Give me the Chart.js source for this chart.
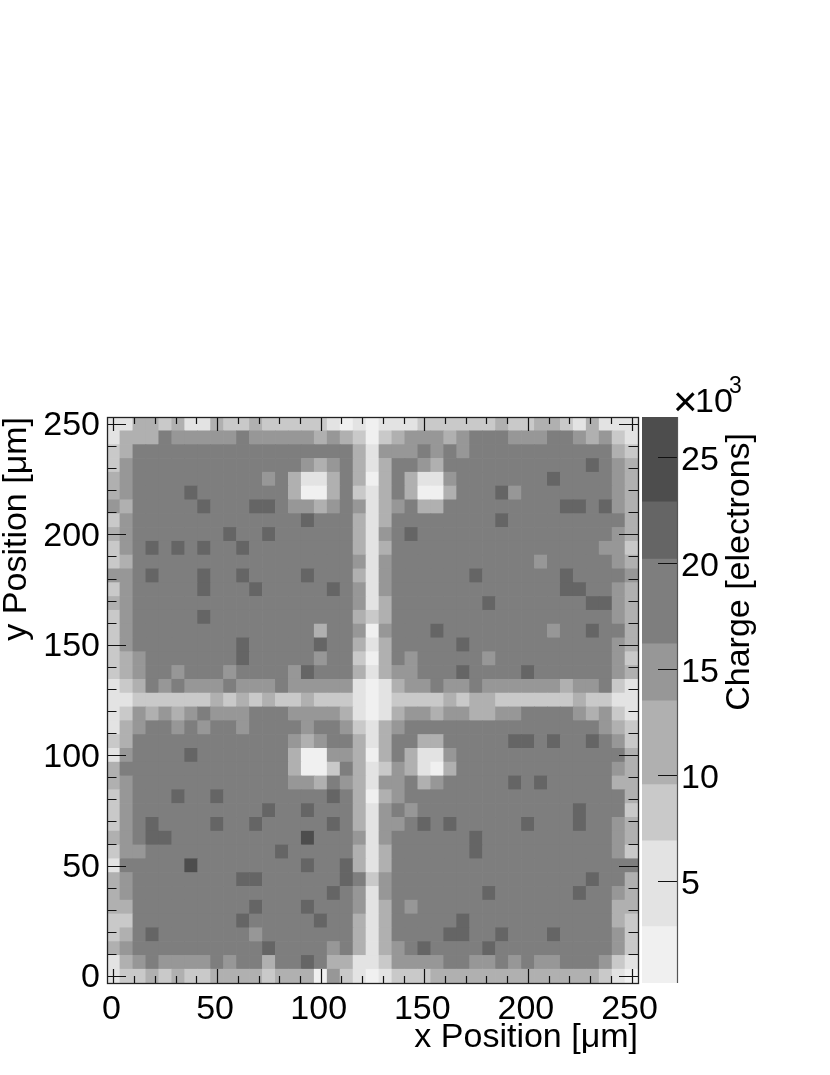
<!DOCTYPE html>
<html>
<head>
<meta charset="utf-8">
<style>
html,body{margin:0;padding:0;background:#fff}
#wrap{position:relative;width:830px;height:1075px}
canvas{position:absolute;left:0;top:0}
</style>
<script src="https://cdn.jsdelivr.net/npm/chart.js@4/dist/chart.umd.min.js"></script>
</head>
<body>
<div id="wrap"><canvas id="map" width="830" height="1075"></canvas><canvas id="bar" width="830" height="1075"></canvas></div>
<script>
// charge per pixel, in thousands of electrons; first row is the top row (y = 250)
const chargeRows = [
[5,5,11,11,8,11,5,5,11,8,8,11,8,8,8,8,8,5,2,5,2,5,5,5,8,8,8,8,8,8,11,8,8,11,11,8,5,11,5,5,5],
[5,11,11,11,18,15,15,15,15,15,18,15,15,15,15,15,11,15,11,8,2,8,11,15,15,15,11,15,18,18,18,15,15,15,18,18,15,11,15,8,5],
[8,11,18,18,18,18,18,18,18,18,18,18,18,18,18,18,18,18,18,11,5,15,15,15,18,15,18,15,18,18,18,18,18,18,18,18,18,18,18,11,8],
[8,15,18,18,18,18,18,18,18,18,18,18,18,18,18,15,11,15,18,11,5,11,18,18,15,11,18,18,18,18,18,18,18,18,18,18,18,21,18,15,11],
[11,15,18,18,18,18,18,18,18,18,18,18,15,18,11,5,5,11,18,11,2,11,18,11,5,5,15,18,18,18,18,18,18,18,21,18,18,18,18,15,11],
[11,15,18,18,18,18,21,18,18,18,18,18,18,18,11,2,2,11,18,8,5,11,18,11,2,2,11,18,18,18,21,15,18,18,18,18,18,18,18,15,11],
[15,11,18,18,18,18,18,21,18,18,18,21,21,18,15,15,11,15,18,15,5,11,15,18,11,11,18,18,18,18,18,18,18,18,18,21,21,18,21,15,11],
[8,15,18,18,18,18,18,18,18,18,18,18,18,18,18,21,18,18,18,11,5,11,18,18,18,18,18,18,18,18,21,18,18,18,18,18,18,18,18,18,11],
[11,15,18,18,18,18,18,18,18,21,18,18,21,18,18,18,18,18,18,11,5,15,18,21,18,18,18,18,18,18,18,18,18,18,18,18,18,18,18,15,11],
[8,15,18,21,18,21,18,21,18,18,21,18,18,18,18,18,18,18,18,11,5,11,18,18,18,18,18,18,18,18,18,18,18,18,18,18,18,18,15,15,8],
[8,11,18,18,18,18,18,18,18,18,18,18,18,18,18,18,18,18,18,15,5,15,18,18,18,18,18,18,18,18,18,18,18,15,18,18,18,18,18,15,11],
[15,15,18,21,18,18,18,21,18,18,21,18,18,18,18,21,18,18,18,11,5,15,18,18,18,18,18,18,21,18,18,18,18,18,18,21,18,18,18,18,15],
[8,15,18,18,18,18,18,21,18,18,18,21,18,18,18,18,18,21,18,15,5,15,18,18,18,18,18,18,18,18,18,18,18,18,18,21,21,18,18,15,11],
[11,15,18,18,18,18,18,18,18,18,18,18,18,18,18,18,18,18,18,15,5,11,18,18,18,18,18,18,18,21,18,18,18,18,18,18,18,21,21,15,11],
[8,15,18,18,18,18,18,21,18,18,18,18,18,18,18,18,18,18,18,11,8,11,18,18,18,18,18,18,18,18,18,18,18,18,18,18,18,18,18,15,11],
[8,15,18,18,18,18,18,18,18,18,18,18,18,18,18,18,11,18,18,15,2,15,18,18,18,21,18,18,18,18,18,18,18,18,15,18,18,21,18,18,11],
[8,15,18,18,18,18,18,18,18,18,21,18,18,18,18,18,21,18,18,11,5,11,18,18,18,18,18,21,18,18,18,18,18,18,18,18,18,18,18,15,11],
[8,11,15,18,18,18,18,18,18,18,21,18,18,18,18,18,15,18,18,8,2,11,18,15,18,18,18,18,18,15,18,18,18,18,18,18,18,18,18,15,8],
[8,11,15,18,18,15,18,18,18,15,18,18,18,18,15,21,18,18,18,11,5,11,15,15,18,18,18,21,18,18,18,18,21,18,18,18,18,18,18,15,11],
[5,8,11,18,15,18,15,15,15,18,15,15,15,18,15,15,15,15,15,5,2,5,11,15,15,18,15,15,18,15,15,15,15,15,15,11,15,15,18,8,5],
[5,5,8,8,8,8,8,8,11,8,11,8,11,8,8,11,8,8,8,5,2,5,8,8,8,8,11,8,11,11,8,8,8,8,8,8,11,8,8,5,5],
[5,8,15,11,15,11,15,18,15,15,15,18,18,18,15,15,15,15,11,5,2,5,11,15,15,11,15,15,11,11,15,15,18,18,18,18,15,11,15,8,5],
[5,11,15,18,18,15,18,15,18,18,15,18,18,18,18,15,18,18,15,8,5,11,15,18,18,18,18,18,18,18,18,18,18,18,18,18,18,18,15,11,8],
[8,11,18,18,18,18,18,18,18,18,18,18,18,18,15,11,15,18,18,11,5,11,18,18,11,11,18,18,18,18,18,21,21,18,21,18,18,21,18,15,8],
[5,15,18,18,18,18,21,18,18,18,18,18,18,18,11,2,2,15,15,11,2,11,18,11,5,5,15,18,18,18,18,18,18,18,18,18,18,18,18,18,11],
[11,18,18,18,18,18,18,18,18,18,18,18,18,18,11,2,2,8,18,11,5,8,15,11,5,2,11,18,18,18,18,18,18,18,18,18,18,18,18,15,11],
[11,15,18,18,18,18,18,18,18,18,18,18,18,18,15,15,11,18,15,11,5,15,15,18,11,15,18,18,18,18,18,21,18,21,18,18,18,18,18,11,11],
[8,15,18,18,18,21,18,18,21,18,18,18,18,18,18,18,18,21,18,11,2,11,15,18,18,18,18,18,18,18,18,18,18,18,18,18,18,18,18,18,11],
[8,15,18,18,18,18,18,18,18,18,18,18,21,18,18,21,18,18,18,11,5,15,18,15,18,18,18,18,18,18,18,18,18,18,18,18,21,18,18,18,8],
[8,15,18,21,18,18,18,18,21,18,18,21,18,18,18,18,18,21,18,11,5,15,15,18,21,18,21,18,18,18,18,18,21,18,18,18,21,18,18,15,11],
[11,15,18,21,21,18,18,18,18,18,18,18,18,18,18,25,18,18,18,15,5,15,18,18,18,18,18,18,21,18,18,18,18,18,18,18,18,18,18,15,11],
[8,15,15,18,18,18,18,18,18,18,18,18,18,21,18,18,18,18,18,11,5,11,18,18,18,18,18,18,21,18,18,18,18,18,18,18,18,18,18,15,8],
[5,18,18,18,18,18,25,18,18,18,18,18,18,18,18,21,18,18,21,11,5,11,18,18,18,18,18,18,18,18,18,18,18,18,18,18,18,18,18,18,18],
[11,15,18,18,18,18,18,18,18,18,21,21,18,18,18,18,18,18,21,18,8,15,18,18,18,18,18,18,18,18,18,18,18,18,18,18,18,21,18,18,11],
[11,15,18,18,18,18,18,18,18,18,18,18,18,18,18,18,18,21,18,15,5,15,18,18,18,18,18,18,18,21,18,18,18,18,18,18,21,18,18,15,11],
[11,11,18,18,18,18,18,18,18,18,18,21,18,18,18,21,18,18,18,15,5,11,18,15,18,18,18,18,18,18,18,18,18,18,18,18,18,18,18,11,11],
[8,8,18,18,18,18,18,18,18,18,21,18,18,18,18,18,21,18,18,11,5,11,18,18,18,18,18,21,18,18,18,18,18,18,18,18,18,18,18,11,8],
[8,11,18,21,18,18,18,18,18,18,18,15,18,18,18,18,18,18,18,11,5,11,18,18,18,18,21,21,18,18,21,18,18,18,21,18,18,18,18,15,8],
[11,15,18,18,18,18,18,18,18,18,18,18,21,18,18,18,18,15,18,11,5,11,15,18,21,18,18,18,18,21,18,18,18,18,18,18,18,18,18,15,8],
[5,11,15,18,15,15,15,15,18,15,18,18,11,18,18,21,18,11,11,5,5,8,15,15,15,15,18,18,15,15,18,15,18,15,15,18,18,18,15,8,5],
[5,8,8,11,8,11,8,8,11,11,11,11,8,11,11,11,2,15,8,5,2,5,8,8,8,11,11,11,11,11,11,11,11,11,11,11,11,11,8,5,2]
];
const binWidth = 6.25;
const xTickLabels = [0,50,100,150,200,250];
const yTickLabels = [0,50,100,150,200,250];
const minorTicks = [0,10,20,30,40,50,60,70,80,90,100,110,120,130,140,150,160,170,180,190,200,210,220,230,240,250];
const colorTickLabels = [5,10,15,20,25];
const bandEdges = [0.19,2.85,6.9,9.55,13.5,16.2,20.2,22.9,26.9];
const bandColors = ['#f0f0f0','#e3e3e3','#c9c9c9','#b0b0b0','#979797','#7e7e7e','#656565','#4d4d4d'];

const FONT = '"Liberation Sans", Arial, sans-serif';
const INK = '#000';
function colorOf(v){
  for(let i=0;i<bandColors.length;i++){ if(v<bandEdges[i+1]) return bandColors[i]; }
  return bandColors[bandColors.length-1];
}
const cells=[], cellColors=[];
chargeRows.forEach((row,r)=>{
  const yc=(chargeRows.length-1-r)*binWidth;
  row.forEach((v,c)=>{
    cells.push({x:c*binWidth,y:[yc-binWidth/2,yc+binWidth/2]});
    cellColors.push(colorOf(v));
  });
});

const frameTicks={
  id:'frameTicks',
  afterDatasetsDraw(chart){
    const {ctx,chartArea:a,scales:{x,y}}=chart;
    ctx.save();
    ctx.strokeStyle='#111';
    ctx.lineWidth=1.2;
    ctx.beginPath();
    minorTicks.forEach(v=>{
      const major=v%50===0;
      const px=Math.round(x.getPixelForValue(v))+.5, py=Math.round(y.getPixelForValue(v))+.5;
      const lx=major?14:7, ly=major?19:9.5;
      ctx.moveTo(px,a.top);ctx.lineTo(px,a.top+lx);
      ctx.moveTo(px,a.bottom);ctx.lineTo(px,a.bottom-lx);
      ctx.moveTo(a.left,py);ctx.lineTo(a.left+ly,py);
      ctx.moveTo(a.right,py);ctx.lineTo(a.right-ly,py);
    });
    ctx.stroke();
    ctx.strokeStyle='#222';
    ctx.lineWidth=1.3;
    ctx.strokeRect(Math.round(a.left)+.5,Math.round(a.top)+.5,Math.round(a.right-a.left),Math.round(a.bottom-a.top));
    ctx.restore();
  }
};

new Chart(document.getElementById('map'),{
  type:'bar',
  data:{datasets:[{data:cells,backgroundColor:cellColors,borderWidth:0,barPercentage:1,categoryPercentage:1}]},
  options:{
    responsive:false,animation:false,devicePixelRatio:1,
    layout:{padding:{top:417,right:192,left:0,bottom:0}},
    plugins:{legend:{display:false},tooltip:{enabled:false},title:{display:false}},
    scales:{
      x:{type:'linear',min:-3.125,max:253.125,offset:false,
        grid:{display:false,drawTicks:false},border:{display:false},
        afterBuildTicks(s){s.ticks=xTickLabels.map(v=>({value:v}));},
        afterFit(s){s.height=92;},
        ticks:{font:{family:FONT,size:34},color:INK,padding:6,maxRotation:0,autoSkip:false,labelOffset:-2},
        title:{display:true,text:'x Position [μm]',align:'end',color:INK,font:{family:FONT,size:34,lineHeight:1.2},padding:{top:0,bottom:17}}
      },
      y:{type:'linear',min:-3.125,max:253.125,
        grid:{display:false,drawTicks:false},border:{display:false},
        afterBuildTicks(s){s.ticks=yTickLabels.map(v=>({value:v}));},
        afterFit(s){s.width=107;},
        ticks:{font:{family:FONT,size:34},color:INK,padding:7,autoSkip:false,labelOffset:2},
        title:{display:true,text:'y Position [μm]',align:'end',color:INK,font:{family:FONT,size:34,lineHeight:1},padding:0}
      }
    }
  },
  plugins:[frameTicks]
});

const colorbarDecor={
  id:'colorbarDecor',
  afterDatasetsDraw(chart){
    const {ctx,chartArea:a,scales:{y}}=chart;
    ctx.save();
    ctx.strokeStyle='#111';ctx.lineWidth=1.2;ctx.beginPath();
    colorTickLabels.forEach(v=>{
      const py=Math.round(y.getPixelForValue(v))+.5;
      ctx.moveTo(a.right,py);ctx.lineTo(a.right-19,py);
    });
    ctx.stroke();
    ctx.strokeStyle='#555';ctx.beginPath();
    ctx.moveTo(a.right+.5,a.top);ctx.lineTo(a.right+.5,a.bottom);ctx.stroke();
    ctx.fillStyle=INK;ctx.textBaseline='alphabetic';ctx.textAlign='left';
    ctx.font='42px '+FONT;
    ctx.fillText('×',673,416);
    ctx.font='34px '+FONT;
    ctx.fillText('10',695,412);
    ctx.font='23px '+FONT;
    ctx.fillText('3',729,393);
    ctx.font='34px '+FONT;
    ctx.translate(749,433);ctx.rotate(-Math.PI/2);ctx.textAlign='right';
    ctx.fillText('Charge [electrons]',0,0);
    ctx.restore();
  }
};

new Chart(document.getElementById('bar'),{
  type:'bar',
  data:{labels:['Charge'],datasets:bandColors.map((c,i)=>({data:[[bandEdges[i],bandEdges[i+1]]],backgroundColor:c,borderWidth:0,barPercentage:1,categoryPercentage:1,grouped:false}))},
  options:{
    responsive:false,animation:false,devicePixelRatio:1,
    layout:{padding:{top:417,left:642,right:0,bottom:92}},
    plugins:{legend:{display:false},tooltip:{enabled:false},title:{display:false}},
    scales:{
      x:{display:false},
      y:{type:'linear',position:'right',min:0.19,max:26.9,
        grid:{display:false,drawTicks:false},border:{display:false},
        afterBuildTicks(s){s.ticks=colorTickLabels.map(v=>({value:v}));},
        afterFit(s){s.width=153;},
        ticks:{font:{family:FONT,size:34},color:INK,padding:4,autoSkip:false,labelOffset:3.5}
      }
    }
  },
  plugins:[colorbarDecor]
});
</script>
</body>
</html>
